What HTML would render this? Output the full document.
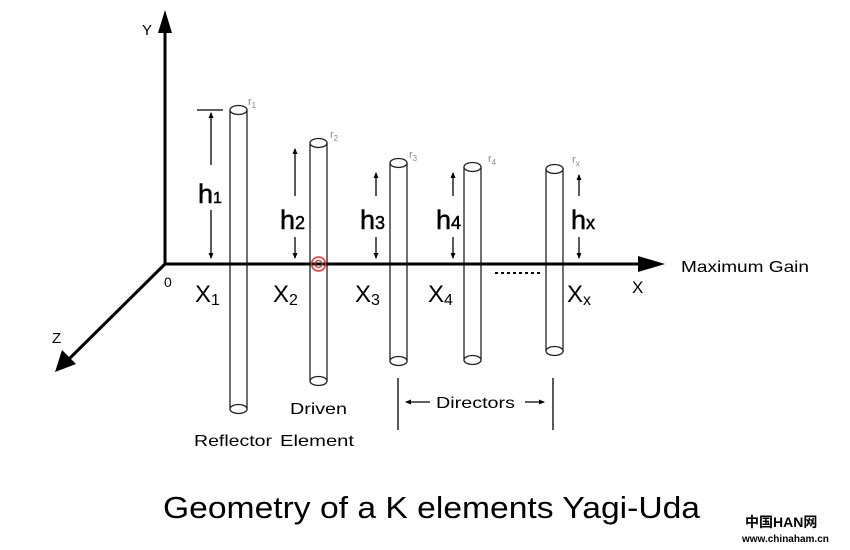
<!DOCTYPE html>
<html><head><style>body{margin:0;background:#fff}svg{display:block}</style></head>
<body>
<svg width="850" height="550" viewBox="0 0 850 550" xmlns="http://www.w3.org/2000/svg" font-family="Liberation Sans, Arial, sans-serif">
<defs>
<marker id="b" markerWidth="6" markerHeight="6" refX="5" refY="3" orient="auto" markerUnits="userSpaceOnUse"><path d="M0,0.5 L6,3 L0,5.5z" fill="#000"/></marker>
</defs>
<g stroke="#000" stroke-width="3" fill="none">
<line x1="165" y1="264" x2="165" y2="30"/>
<line x1="165" y1="264" x2="640" y2="264"/>
<line x1="165" y1="264" x2="68" y2="360"/>
</g>
<path d="M165,10 L158,33 L172,33z"/>
<path d="M665,264 L638,256 L638,272z"/>
<path d="M55,372 L62,350 L76,364z"/>
<g font-size="15"><text x="142" y="35">Y</text><text x="52" y="343">Z</text><text x="164" y="287" font-size="14">0</text><text x="632" y="293" font-size="17">X</text><text x="681" y="272" font-size="16" textLength="128" lengthAdjust="spacingAndGlyphs">Maximum Gain</text></g>
<g stroke="#222" stroke-width="1.3" fill="#fff">
<rect x="230" y="110" width="17" height="299"/><ellipse cx="238.5" cy="110" rx="8.5" ry="4.5"/><ellipse cx="238.5" cy="409" rx="8.5" ry="4.5"/>
<rect x="310" y="143" width="17" height="238"/><ellipse cx="318.5" cy="143" rx="8.5" ry="4.5"/><ellipse cx="318.5" cy="381" rx="8.5" ry="4.5"/>
<rect x="390" y="163" width="17" height="198"/><ellipse cx="398.5" cy="163" rx="8.5" ry="4.5"/><ellipse cx="398.5" cy="361" rx="8.5" ry="4.5"/>
<rect x="464" y="167" width="17" height="193"/><ellipse cx="472.5" cy="167" rx="8.5" ry="4.5"/><ellipse cx="472.5" cy="360" rx="8.5" ry="4.5"/>
<rect x="546" y="169" width="17" height="182"/><ellipse cx="554.5" cy="169" rx="8.5" ry="4.5"/><ellipse cx="554.5" cy="351" rx="8.5" ry="4.5"/>
</g>
<line x1="165" y1="264" x2="640" y2="264" stroke="#000" stroke-width="3"/>
<circle cx="318.5" cy="264" r="7" fill="none" stroke="#e33" stroke-width="1.5"/>
<circle cx="318.5" cy="264" r="3.5" fill="none" stroke="#e33" stroke-width="1.2"/>
<g fill="#888" font-size="11"><text x="248" y="105">r<tspan font-size="8" dy="3">1</tspan></text><text x="330" y="138">r<tspan font-size="8" dy="3">2</tspan></text><text x="409" y="158">r<tspan font-size="8" dy="3">3</tspan></text><text x="488" y="162">r<tspan font-size="8" dy="3">4</tspan></text><text x="572" y="163">r<tspan font-size="8" dy="3">x</tspan></text></g>
<g stroke="#000" stroke-width="1.3">
<line x1="197" y1="110" x2="223" y2="110"/>
<line x1="211" y1="165" x2="211" y2="113" marker-end="url(#b)"/><line x1="211" y1="210" x2="211" y2="258" marker-end="url(#b)"/>
<line x1="295" y1="196" x2="295" y2="149" marker-end="url(#b)"/><line x1="295" y1="237" x2="295" y2="258" marker-end="url(#b)"/>
<line x1="376" y1="196" x2="376" y2="173" marker-end="url(#b)"/><line x1="376" y1="237" x2="376" y2="258" marker-end="url(#b)"/>
<line x1="453" y1="196" x2="453" y2="173" marker-end="url(#b)"/><line x1="453" y1="237" x2="453" y2="258" marker-end="url(#b)"/>
<line x1="579" y1="196" x2="579" y2="175" marker-end="url(#b)"/><line x1="579" y1="237" x2="579" y2="258" marker-end="url(#b)"/>
<line x1="398" y1="378" x2="398" y2="430"/><line x1="553" y1="378" x2="553" y2="430"/>
<line x1="430" y1="402" x2="406" y2="402" marker-end="url(#b)"/><line x1="525" y1="402" x2="544" y2="402" marker-end="url(#b)"/>
</g>
<line x1="495" y1="273" x2="540" y2="273" stroke="#000" stroke-width="2" stroke-dasharray="3,3"/>
<g font-size="27" stroke="#000" stroke-width="0.5"><text x="198" y="203">h<tspan font-size="16">1</tspan></text><text x="280" y="229">h<tspan font-size="18">2</tspan></text><text x="360" y="229">h<tspan font-size="18">3</tspan></text><text x="436" y="229">h<tspan font-size="18">4</tspan></text><text x="571" y="229">h<tspan font-size="18">x</tspan></text></g>
<g font-size="24"><text x="195" y="302">X<tspan font-size="16" dy="3">1</tspan></text><text x="273" y="302">X<tspan font-size="16" dy="3">2</tspan></text><text x="355" y="302">X<tspan font-size="16" dy="3">3</tspan></text><text x="428" y="302">X<tspan font-size="16" dy="3">4</tspan></text><text x="567" y="302">X<tspan font-size="16" dy="3">x</tspan></text></g>
<g font-size="16"><text x="290" y="414" textLength="57" lengthAdjust="spacingAndGlyphs">Driven</text><text x="194" y="446" textLength="78" lengthAdjust="spacingAndGlyphs">Reflector</text><text x="280" y="446" textLength="74" lengthAdjust="spacingAndGlyphs">Element</text><text x="436" y="408" textLength="79" lengthAdjust="spacingAndGlyphs">Directors</text></g>
<text x="163" y="518" font-size="31" textLength="537" lengthAdjust="spacingAndGlyphs">Geometry of a K elements Yagi-Uda</text>
<text x="745" y="527" font-size="14" font-weight="bold" font-family="Liberation Sans, Noto Sans CJK SC, sans-serif">中国HAN网</text>
<text x="742" y="542" font-size="10" font-weight="bold">www.chinaham.cn</text>
</svg>
</body></html>
